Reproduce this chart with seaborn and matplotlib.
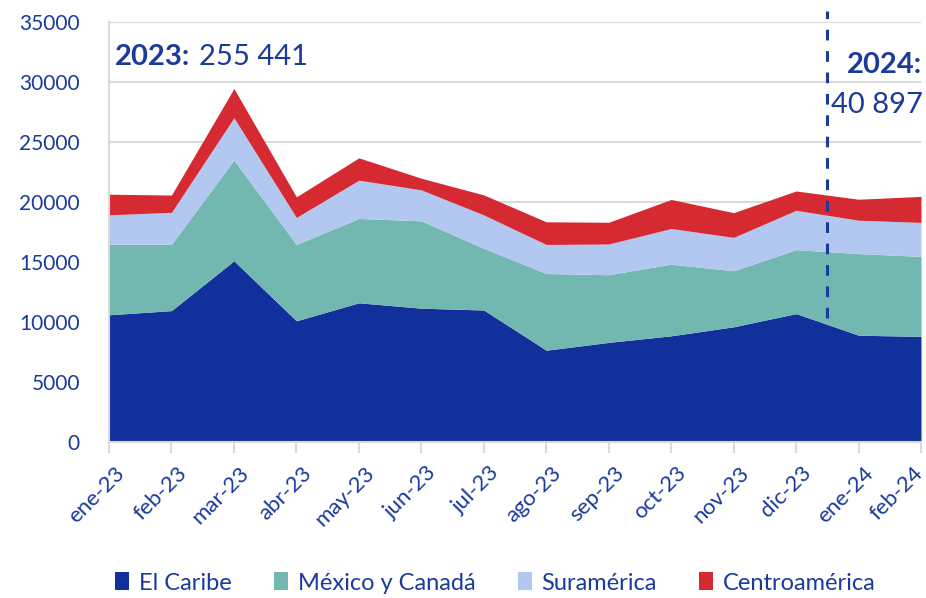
import numpy as np
import matplotlib
matplotlib.use("Agg")
from matplotlib import pyplot as plt
from matplotlib.patches import Patch
import matplotlib.transforms as mtransforms
import seaborn as sns

months = ["ene-23", "feb-23", "mar-23", "abr-23", "may-23", "jun-23", "jul-23",
          "ago-23", "sep-23", "oct-23", "nov-23", "dic-23", "ene-24", "feb-24"]

series_names = ["El Caribe", "México y Canadá", "Suramérica", "Centroamérica"]
caribe = [10600, 10950, 15100, 10100, 11600, 11150, 11000, 7650, 8300, 8850, 9600, 10700, 8900, 8800]
mexico_canada = [5890, 5530, 8390, 6360, 7030, 7280, 5140, 6390, 5640, 5970, 4670, 5330, 6800, 6670]
suramerica = [2440, 2660, 3530, 2250, 3190, 2580, 2780, 2420, 2560, 2970, 2780, 3280, 2780, 2830]
centroamerica = [1720, 1440, 2440, 1720, 1860, 970, 1670, 1890, 1810, 2420, 2060, 1610, 1750, 2170]

total_2023 = "255 441"
total_2024 = "40 897"

colors = ["#12309C", "#72B8B0", "#B3C8F0", "#D62A32"]
txt_color = "#1A3A9C"
grid_color = "#DADADA"

sns.set_theme(style="white")
plt.rcParams["font.family"] = ["Lato", "DejaVu Sans"]

fig = plt.figure(figsize=(9.26, 5.98), dpi=100)
ax = fig.add_axes([109 / 926, 156 / 598, 812 / 926, 420 / 598])

x = np.arange(len(months))
ax.stackplot(x, caribe, mexico_canada, suramerica, centroamerica,
             colors=colors, labels=series_names, linewidth=0, zorder=2)

ax.set_xlim(0, len(months) - 1)
ax.set_ylim(0, 35000)
ax.set_yticks(np.arange(0, 35001, 5000))
ax.yaxis.grid(True, color=grid_color, linewidth=1.5, zorder=0)
ax.set_axisbelow(True)

for side in ["top", "right"]:
    ax.spines[side].set_visible(False)
for side in ["left", "bottom"]:
    ax.spines[side].set_color(grid_color)
    ax.spines[side].set_linewidth(1.5)
    ax.spines[side].set_zorder(3)

ax.set_xticks(x)
ax.tick_params(axis="x", length=8, width=1.5, color=grid_color, pad=7, bottom=True)
ax.tick_params(axis="y", length=0, pad=21, labelsize=15, labelcolor=txt_color)
ax.set_xticklabels(months, rotation=45, ha="right", rotation_mode="anchor",
                   fontsize=16, color=txt_color)
labels = ax.get_xticklabels()
for i, lbl in enumerate(labels):
    dx = 5 if i < len(labels) - 1 else -8
    offset = mtransforms.ScaledTranslation(dx / 100, 0, fig.dpi_scale_trans)
    lbl.set_transform(lbl.get_transform() + offset)

# separator between years
ax.plot([11.5, 11.5], [10300, 35900], color=txt_color, linewidth=2.2,
        dashes=(3.5, 3.5), clip_on=False, zorder=4)

t1 = ax.text(0.1, 31400, "2023:", fontsize=21, fontweight="bold", color=txt_color,
             va="baseline", ha="left")
ax.annotate(total_2023, xy=(1, 0), xycoords=t1, xytext=(6, 0), textcoords="offset points",
            fontsize=21, color=txt_color, va="bottom", ha="left")
ax.text(11.82, 30750, "2024:", fontsize=21, fontweight="bold", color=txt_color,
        va="baseline", ha="left", clip_on=False)
ax.text(11.56, 27400, total_2024, fontsize=21, color=txt_color,
        va="baseline", ha="left", clip_on=False)

handles = [Patch(facecolor=c, edgecolor="none") for c in colors]
leg = fig.legend(handles, series_names, loc="center", bbox_to_anchor=(0.535, 0.025),
                 ncol=4, frameon=False, fontsize=17, handlelength=0.6, handleheight=0.8,
                 handletextpad=0.4, columnspacing=1.8)
for t in leg.get_texts():
    t.set_color(txt_color)

fig.savefig("out.png", dpi=100)
